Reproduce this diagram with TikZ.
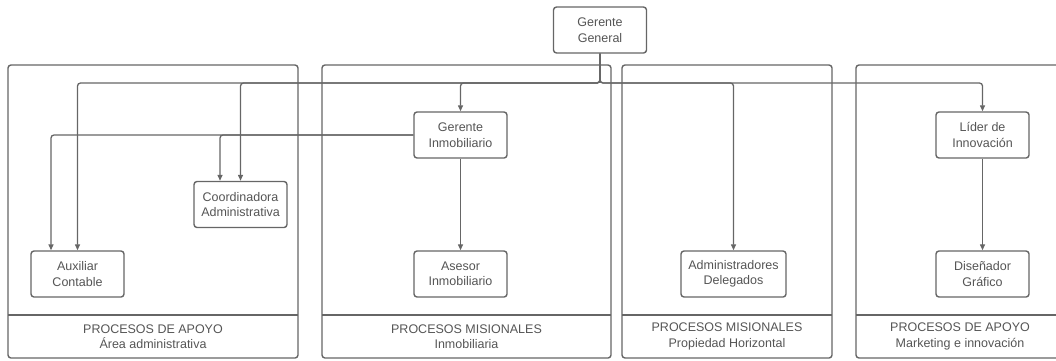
\documentclass[tikz,border=0pt]{standalone}
\usepackage{fontspec}
\setmainfont{Liberation Sans}
\usetikzlibrary{arrows.meta}
\definecolor{edge}{HTML}{666666}
\definecolor{ink}{HTML}{555555}
\begin{document}
\begin{tikzpicture}[x=1pt,y=-1pt,
  role/.style={draw=edge, line width=1.4pt, rounded corners=3pt, fill=white,
    minimum width=93pt, minimum height=46pt, inner sep=0pt, align=center,
    text=ink, font=\fontsize{12.5}{15.5}\selectfont},
  panel/.style={draw=edge, line width=1.4pt, rounded corners=3pt},
  tag/.style={align=center, text=ink, inner sep=0pt, font=\fontsize{12.5}{15.5}\selectfont},
  conn/.style={draw=edge, line width=1.3pt, rounded corners=3pt,
    -{Triangle[length=6pt,width=5pt]}}]
\useasboundingbox (0,0) rectangle (1056,360);
\begin{scope}
\clip (0,0) rectangle (1056,360);
% process panels with footer band
\draw[panel] (8,65) rectangle (298,358);
\draw[edge, line width=1.4pt] (8,315) -- (298,315);
\draw[panel] (322,65) rectangle (611,358);
\draw[edge, line width=1.4pt] (322,315) -- (611,315);
\draw[panel] (622,65) rectangle (832,358);
\draw[edge, line width=1.4pt] (622,315) -- (832,315);
\draw[panel] (856,65) rectangle (1064,358);
\draw[edge, line width=1.4pt] (856,315) -- (1064,315);
\end{scope}
\node[tag] (lab1) at (153,336.5) {PROCESOS DE APOYO\\Área administrativa};
\node[tag] (lab2) at (466.5,336.5) {PROCESOS MISIONALES\\Inmobiliaria};
\node[tag] (lab3) at (727,336.5) {PROCESOS MISIONALES\\Propiedad Horizontal};
\node[tag] (lab4) at (960,336.5) {PROCESOS DE APOYO\\Marketing e innovación};
% roles
\node[role] (gg) at (600,30) {Gerente\\General};
\node[role] (gi) at (460.5,135) {Gerente\\Inmobiliario};
\node[role] (li) at (982.5,135) {Líder de\\Innovación};
\node[role] (coord) at (240.5,204.5) {Coordinadora\\Administrativa};
\node[role] (aux) at (77.5,274) {Auxiliar\\Contable};
\node[role] (ase) at (460.5,274) {Asesor\\Inmobiliario};
\node[role, minimum width=105pt] (adm) at (733.5,274) {Administradores\\Delegados};
\node[role] (dis) at (982.5,274) {Diseñador\\Gráfico};
% reporting lines
\coordinate (bus) at (600,83);
\draw[conn] (gg.south) -- (bus) -| (aux.north);
\draw[conn] (gg.south) -- (bus) -| (coord.north);
\draw[conn] (gg.south) -- (bus) -| (gi.north);
\draw[conn] (gg.south) -- (bus) -| (adm.north);
\draw[conn] (gg.south) -- (bus) -| (li.north);
\draw[conn] (gi.west) -| ([xshift=-20.5pt]coord.north);
\draw[conn] (gi.west) -| ([xshift=-26.5pt]aux.north);
\draw[conn] (gi.south) -- (ase.north);
\draw[conn] (li.south) -- (dis.north);
\end{tikzpicture}
\end{document}
